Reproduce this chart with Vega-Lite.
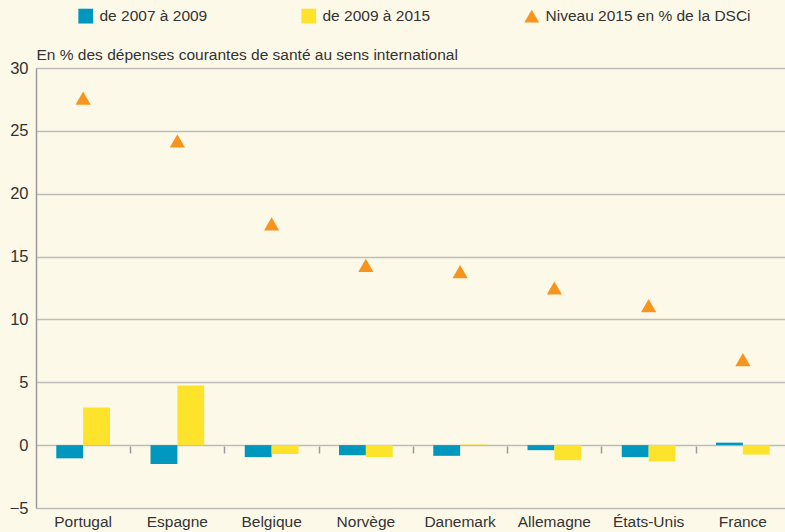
{
  "$schema": "https://vega.github.io/schema/vega-lite/v6.json",
  "width": 754,
  "height": 440,
  "autosize": {"type": "none"},
  "padding": {"left": 36, "top": 68, "right": 0, "bottom": 24},
  "background": "#fdf9e9",
  "config": {
    "font": "Liberation Sans, Arial, sans-serif",
    "view": {"stroke": null},
    "axis": {"labelFont": "Liberation Sans, Arial, sans-serif", "labelColor": "#333333", "labelFontSize": 15.5}
  },
  "data": {
    "values": [
      {"pays": "Portugal", "serie": "de 2007 à 2009", "valeur": -1.05},
      {"pays": "Portugal", "serie": "de 2009 à 2015", "valeur": 3.0},
      {"pays": "Portugal", "serie": "Niveau 2015 en % de la DSCi", "valeur": 27.6},
      {"pays": "Espagne", "serie": "de 2007 à 2009", "valeur": -1.5},
      {"pays": "Espagne", "serie": "de 2009 à 2015", "valeur": 4.75},
      {"pays": "Espagne", "serie": "Niveau 2015 en % de la DSCi", "valeur": 24.2},
      {"pays": "Belgique", "serie": "de 2007 à 2009", "valeur": -0.95},
      {"pays": "Belgique", "serie": "de 2009 à 2015", "valeur": -0.7},
      {"pays": "Belgique", "serie": "Niveau 2015 en % de la DSCi", "valeur": 17.6},
      {"pays": "Norvège", "serie": "de 2007 à 2009", "valeur": -0.8},
      {"pays": "Norvège", "serie": "de 2009 à 2015", "valeur": -0.95},
      {"pays": "Norvège", "serie": "Niveau 2015 en % de la DSCi", "valeur": 14.3},
      {"pays": "Danemark", "serie": "de 2007 à 2009", "valeur": -0.85},
      {"pays": "Danemark", "serie": "de 2009 à 2015", "valeur": 0.05},
      {"pays": "Danemark", "serie": "Niveau 2015 en % de la DSCi", "valeur": 13.8},
      {"pays": "Allemagne", "serie": "de 2007 à 2009", "valeur": -0.4},
      {"pays": "Allemagne", "serie": "de 2009 à 2015", "valeur": -1.2},
      {"pays": "Allemagne", "serie": "Niveau 2015 en % de la DSCi", "valeur": 12.5},
      {"pays": "États-Unis", "serie": "de 2007 à 2009", "valeur": -0.95},
      {"pays": "États-Unis", "serie": "de 2009 à 2015", "valeur": -1.3},
      {"pays": "États-Unis", "serie": "Niveau 2015 en % de la DSCi", "valeur": 11.1},
      {"pays": "France", "serie": "de 2007 à 2009", "valeur": 0.2},
      {"pays": "France", "serie": "de 2009 à 2015", "valeur": -0.75},
      {"pays": "France", "serie": "Niveau 2015 en % de la DSCi", "valeur": 6.8}
    ]
  },
  "encoding": {
    "x": {
      "field": "pays",
      "type": "nominal",
      "sort": null,
      "scale": {"paddingInner": 0.43, "paddingOuter": 0.215},
      "title": null
    },
    "y": {
      "field": "valeur",
      "type": "quantitative",
      "scale": {"domain": [-5, 30], "nice": false},
      "title": "En % des dépenses courantes de santé au sens international",
      "axis": {
        "values": [-5, 0, 5, 10, 15, 20, 25, 30], "ticks": false, "labelPadding": 8, "labelFontSize": 16.5,
        "grid": true, "gridColor": "#bdbdbd", "gridWidth": 1.5, "domainColor": "#9a9a9a", "domainWidth": 1.5,
        "titleAngle": 0, "titleX": 0, "titleY": -9, "titleAlign": "left", "titleBaseline": "alphabetic",
        "titleFontSize": 15.5, "titleFontWeight": "normal", "titleColor": "#333333", "titleFont": "Liberation Sans, Arial, sans-serif"
      }
    }
  },
  "layer": [
    {
      "transform": [{"filter": "datum.serie !== 'Niveau 2015 en % de la DSCi'"}],
      "mark": {"type": "bar"},
      "encoding": {
        "x": {
          "field": "pays", "type": "nominal", "sort": null, "title": null,
          "axis": {"labelAngle": 0, "ticks": false, "domain": false, "labelPadding": 6, "labelFontSize": 15.5, "labelColor": "#333333"}
        },
        "xOffset": {"field": "serie", "type": "nominal", "sort": ["de 2007 à 2009", "de 2009 à 2015"]},
        "color": {
          "field": "serie",
          "type": "nominal",
          "scale": {
            "domain": ["de 2007 à 2009", "de 2009 à 2015", "Niveau 2015 en % de la DSCi"],
            "range": ["#0097bf", "#fde32c", "#f7941d"]
          },
          "legend": {
            "title": null,
            "orient": "none",
            "legendX": 42,
            "legendY": -60,
            "direction": "horizontal",
            "labelFontSize": 15.5,
            "labelColor": "#333333",
            "labelLimit": 400,
            "symbolSize": 220,
            "symbolStrokeWidth": 0,
            "columnPadding": 93,
            "labelOffset": 6
          }
        }
      }
    },
    {
      "transform": [{"filter": "datum.serie === 'Niveau 2015 en % de la DSCi'"}],
      "mark": {"type": "point", "filled": true, "opacity": 1, "size": 230},
      "encoding": {
        "x": {"field": "pays", "type": "nominal", "sort": null, "title": null, "axis": null},
        "color": {"field": "serie", "type": "nominal"},
        "shape": {
          "field": "serie",
          "type": "nominal",
          "scale": {
            "domain": ["de 2007 à 2009", "de 2009 à 2015", "Niveau 2015 en % de la DSCi"],
            "range": ["square", "square", "triangle-up"]
          }
        }
      }
    },
    {
      "mark": {"type": "rule", "opacity": 0},
      "encoding": {
        "x": {
          "field": "pays", "type": "nominal", "sort": null, "title": null,
          "axis": {"orient": "bottom", "offset": -62, "labels": false, "domain": false, "ticks": true, "tickOffset": 47.1, "tickColor": "#9a9a9a", "tickSize": 7, "tickWidth": 1.5}
        }
      }
    }
  ],
  "resolve": {"axis": {"x": "independent"}}
}
